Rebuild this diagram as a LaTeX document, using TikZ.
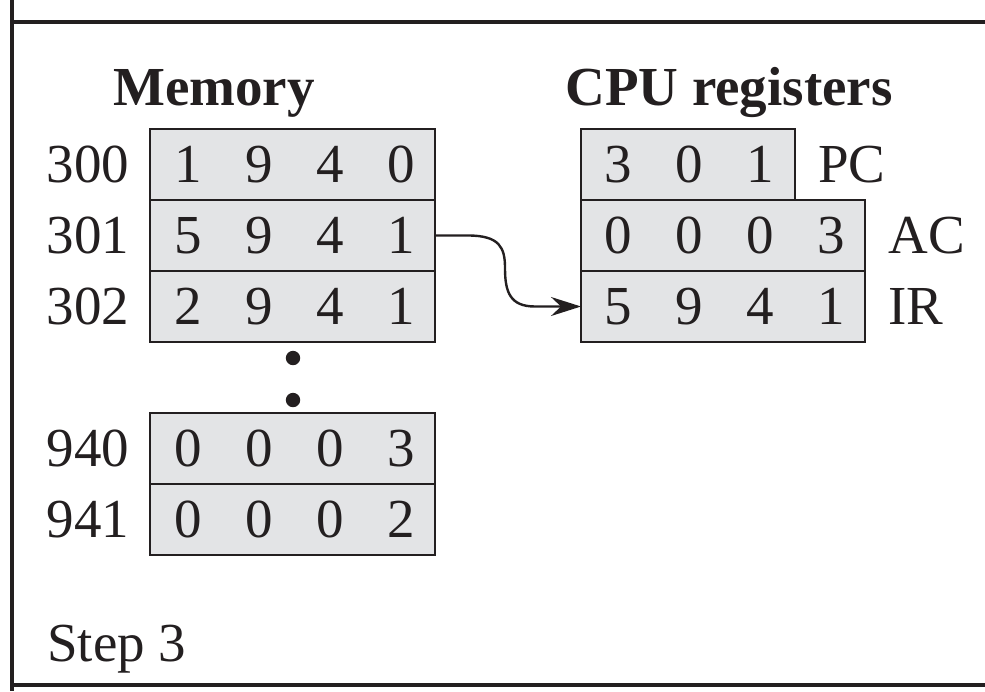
\documentclass[tikz,border=0pt]{standalone}
\usepackage{fontspec}
\setmainfont{Liberation Serif}
\usetikzlibrary{arrows.meta}
\definecolor{cellgray}{RGB}{227,228,230}
\definecolor{ink}{RGB}{35,31,32}
\tikzset{
  frameline/.style={draw=ink, line width=1.9pt},
  cellbox/.style={draw=ink, fill=cellgray, line width=1.35pt, rectangle,
    inner sep=0pt, outer sep=0pt, minimum height=35.5pt},
  memrow/.style={cellbox, minimum width=142.5pt},
  pcrow/.style={cellbox, minimum width=107pt},
  regrow/.style={cellbox, minimum width=142pt},
  digit/.style={inner sep=0pt, text=ink, font=\fontsize{27.5}{30}\selectfont},
  addr/.style={digit},
  reglabel/.style={digit, anchor=west},
  heading/.style={inner sep=0pt, text=ink, anchor=base, font=\fontsize{27.5}{30}\selectfont\bfseries},
  dotmark/.style={circle, fill=ink, inner sep=0pt, minimum size=7.2pt},
  flow/.style={draw=ink, line width=1.2pt, -{Stealth[length=15pt, width=9.5pt, inset=5pt]}}
}
\begin{document}
\begin{tikzpicture}[x=0.5pt, y=-0.5pt]
\useasboundingbox (0,0) rectangle (985,691);

% outer frame: left rule, top rule, bottom rule
\coordinate (fl0) at (12,0);
\coordinate (fl1) at (12,691);
\coordinate (ft0) at (12,22);
\coordinate (ft1) at (985,22);
\coordinate (fb0) at (12,685);
\coordinate (fb1) at (985,685);
\draw[frameline] (fl0) -- (fl1);
\draw[frameline] (ft0) -- (ft1);
\draw[frameline] (fb0) -- (fb1);

% headings
\node[heading] (hmem) at (214,105) {Memory};
\node[heading] (hcpu) at (729,105) {CPU registers};

% memory words
\node[memrow] (m300) at (292.5,164.5) {};
\node[memrow] (m301) at (292.5,235.5) {};
\node[memrow] (m302) at (292.5,306.5) {};
\node[memrow] (m940) at (292.5,448.5) {};
\node[memrow] (m941) at (292.5,519.5) {};

\foreach \row/\y/\a/\b/\c/\d in {300/164.5/1/9/4/0, 301/235.5/5/9/4/1, 302/306.5/2/9/4/1,
                                 940/448.5/0/0/0/3, 941/519.5/0/0/0/2}{
  \node[addr] (a\row) at (88,\y) {\row};
  \node[digit] (m\row d1) at (188,\y) {\a};
  \node[digit] (m\row d2) at (259,\y) {\b};
  \node[digit] (m\row d3) at (330,\y) {\c};
  \node[digit] (m\row d4) at (401,\y) {\d};
}

% ellipsis between the two memory blocks
\node[dotmark] (dot1) at (293,358) {};
\node[dotmark] (dot2) at (293,400) {};

% CPU registers
\node[pcrow] (pc) at (688,164.5) {};
\node[regrow] (ac) at (723,235.5) {};
\node[regrow] (ir) at (723,306.5) {};

\node[digit] (pc1) at (618,164.5) {3};
\node[digit] (pc2) at (689,164.5) {0};
\node[digit] (pc3) at (760,164.5) {1};

\node[digit] (ac1) at (618,235.5) {0};
\node[digit] (ac2) at (689,235.5) {0};
\node[digit] (ac3) at (760,235.5) {0};
\node[digit] (ac4) at (831,235.5) {3};

\node[digit] (ir1) at (618,306.5) {5};
\node[digit] (ir2) at (689,306.5) {9};
\node[digit] (ir3) at (760,306.5) {4};
\node[digit] (ir4) at (831,306.5) {1};

\node[reglabel] (lpc) at (818,164.5) {PC};
\node[reglabel] (lac) at (888,235.5) {AC};
\node[reglabel] (lir) at (888,306.5) {IR};

% instruction fetch: word 301 is copied into IR
\draw[flow] (m301.east) -- (468,235.5)
  .. controls (500,235.5) and (505,248) .. (505,268)
  .. controls (505,292) and (510,306.5) .. (535,306.5)
  -- (ir.west);

% step caption
\node[digit, anchor=base west] (step) at (47,661) {Step 3};
\end{tikzpicture}
\end{document}
